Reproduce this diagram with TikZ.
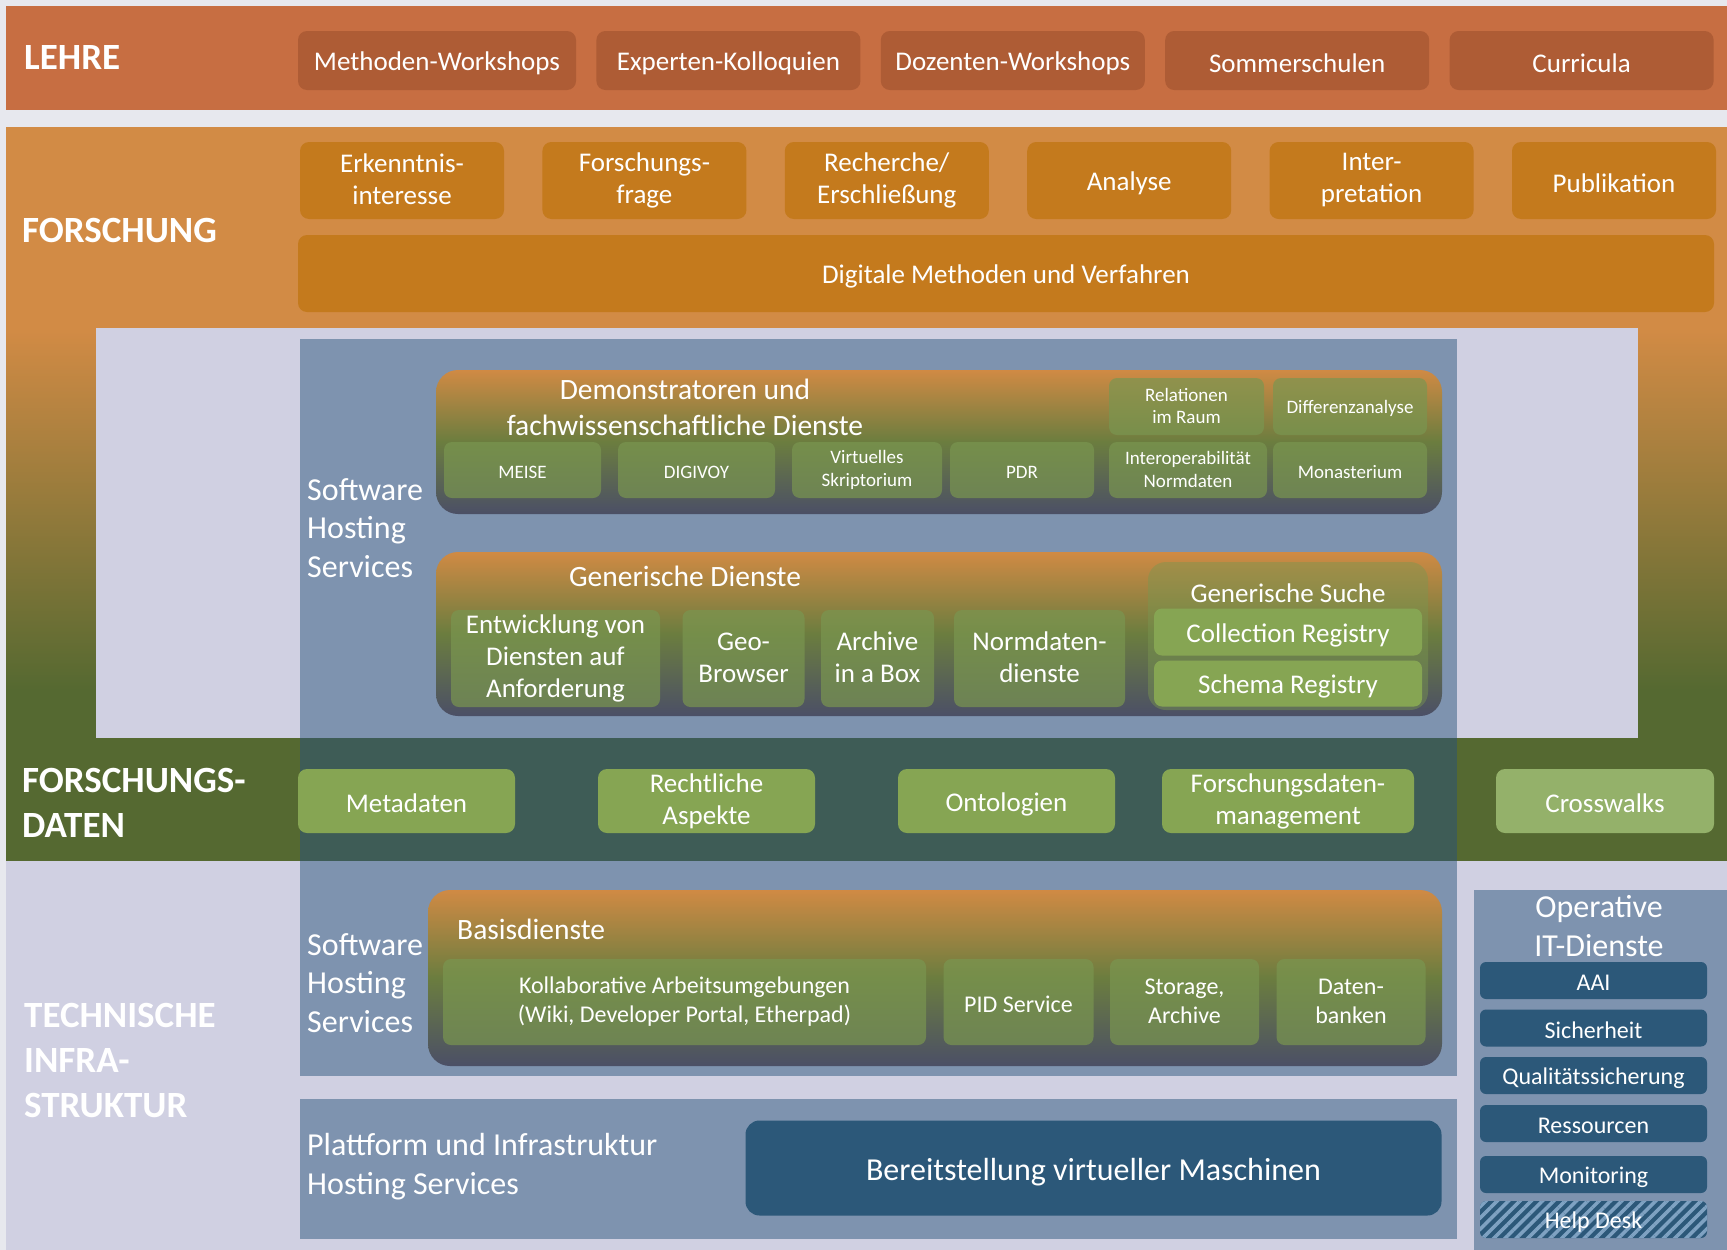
\documentclass[tikz,border=0pt]{standalone}
\usepackage{fontspec}
\setmainfont{Carlito}
\usepackage{tikz}
\usetikzlibrary{positioning, patterns.meta}

\definecolor{pagebg}{HTML}{E7E8EE}
\definecolor{lavender}{HTML}{D0D0E2}
\definecolor{lehreband}{HTML}{C76E42}
\definecolor{lehrebox}{HTML}{AE5C35}
\definecolor{forschband}{HTML}{D28B45}
\definecolor{forschbox}{HTML}{C47A1D}
\definecolor{fdband}{HTML}{556931}
\definecolor{panelblue}{HTML}{7E93AF}
\definecolor{overlap}{HTML}{3E5C56}
\definecolor{datagreen}{HTML}{86A553}
\definecolor{crossgreen}{HTML}{94B16A}
\definecolor{svcgreen}{HTML}{7A9650}
\definecolor{itblue}{HTML}{2C5879}
\definecolor{hatchblue}{HTML}{7FA2C2}
\definecolor{contTop}{HTML}{D08A44}
\definecolor{contMid}{HTML}{6B7D3F}
\definecolor{contBot}{HTML}{4B4F66}

\newcommand{\fsHead}{\fontsize{37}{45}\selectfont\bfseries}
\newcommand{\fsLarge}{\fontsize{32}{38.5}\selectfont}
\newcommand{\fsTitle}{\fontsize{29.5}{36}\selectfont}
\newcommand{\fsMid}{\fontsize{27}{32}\selectfont}
\newcommand{\fsSmall}{\fontsize{24}{29}\selectfont}
\newcommand{\fsTiny}{\fontsize{19}{22.5}\selectfont}
% strut for the first and last line of a box
\newcommand{\boxstrut}{\rule[-0.06\baselineskip]{0pt}{0.84\baselineskip}}

\begin{document}
\begin{tikzpicture}[x=1pt, y=-1pt,
    box/.style={rounded corners=9pt, text=white, align=center, inner sep=0pt,
        execute at begin node=\boxstrut, execute at end node=\boxstrut},
    lbox/.style={box, fill=lehrebox, minimum width=264pt, minimum height=59pt, font=\fsMid},
    fbox/.style={box, fill=forschbox, minimum width=204pt, minimum height=77pt, font=\fsMid},
    cont/.style={rounded corners=22pt, inner sep=0pt, top color=contTop, bottom color=contBot, middle color=contMid},
    sbox/.style={box, fill=svcgreen, fill opacity=0.7, text opacity=1, rounded corners=8pt},
    gbox/.style={box, fill=datagreen, font=\fsMid, rounded corners=8pt},
    dbox/.style={box, fill=datagreen, minimum width=217pt, minimum height=64pt, font=\fsMid},
    itbox/.style={box, fill=itblue, rounded corners=6pt, minimum width=227pt, minimum height=37pt, font=\fsSmall},
    head/.style={anchor=west, align=left, text=white, font=\fsHead, inner sep=0pt},
    hostlbl/.style={anchor=west, align=left, text=white, font=\fsLarge, inner sep=0pt}
]
    \useasboundingbox (0,0) rectangle (1727,1250);
    \fill[pagebg] (0,0) rectangle (1727,1250);

    % bands
    \fill[lehreband] (6,6) rectangle (1727,110);
    \fill[forschband] (6,127) rectangle (1727,328);
    \shade[top color=forschband, bottom color=fdband] (6,328) rectangle (1727,690);
    \fill[fdband] (6,689) rectangle (1727,861);
    \fill[lavender] (96,328) rectangle (1638,738);
    \fill[lavender] (6,861) rectangle (1727,1250);

    % panels
    \fill[panelblue] (300,339) rectangle (1457,1076);
    \fill[overlap] (300,738) rectangle (1457,861);
    \fill[panelblue] (300,1099) rectangle (1457,1239);
    \fill[panelblue] (1474,890) rectangle (1727,1250);

    % LEHRE
    \node[head] (lehre) at (24,58) {LEHRE};
    \node[lbox, minimum width=278pt] (mw) at (437,60.5) {Methoden-Workshops};
    \node[lbox, right=20pt of mw] (ek) {Experten-Kolloquien};
    \node[lbox, right=20pt of ek] (dw) {Dozenten-Workshops};
    \node[lbox, right=20pt of dw] (ss) {Sommerschulen};
    \node[lbox, right=20pt of ss] (cu) {Curricula};

    % FORSCHUNG
    \node[head] (forschung) at (22,231) {FORSCHUNG};
    \node[fbox] (ei) at (402,180.5) {Erkenntnis-\\interesse};
    \node[fbox, right=38pt of ei] (ff) {Forschungs-\\frage};
    \node[fbox, right=38pt of ff] (re) {Recherche/\\Erschließung};
    \node[fbox, right=38pt of re] (an) {Analyse};
    \node[fbox, right=38pt of an] (ip) {Inter-\\pretation};
    \node[fbox, right=38pt of ip] (pu) {Publikation};
    \node[fbox, minimum width=1416pt] (dm) at (1006,273.5) {Digitale Methoden und Verfahren};

    % Software Hosting Services (oben)
    \node[hostlbl] (shs1) at (307,528) {Software\\Hosting\\Services};

    \node[cont, minimum width=1006pt, minimum height=144pt] (demo) at (939,442) {};
    \node[text=white, align=center, font=\fsTitle] (demot) at (685,407) {Demonstratoren und\\fachwissenschaftliche Dienste};
    \node[sbox, font=\fsTiny, minimum width=155pt, minimum height=57pt] (rr) at (1186.5,406.5) {Relationen\\im Raum};
    \node[sbox, font=\fsTiny, minimum width=154pt, minimum height=57pt] (da) at (1350,406.5) {Differenzanalyse};
    \node[sbox, font=\fsTiny, minimum width=157pt, minimum height=56pt] (me) at (522.5,470) {MEISE};
    \node[sbox, font=\fsTiny, minimum width=157pt, minimum height=56pt] (dv) at (696.5,470) {DIGIVOY};
    \node[sbox, font=\fsTiny, minimum width=150pt, minimum height=56pt] (vs) at (867,470) {Virtuelles\\Skriptorium};
    \node[sbox, font=\fsTiny, minimum width=144pt, minimum height=56pt] (pd) at (1022,470) {PDR};
    \node[sbox, font=\fsTiny, minimum width=158pt, minimum height=56pt] (in) at (1188,470) {Interoperabilität\\Normdaten};
    \node[sbox, font=\fsTiny, minimum width=154pt, minimum height=56pt] (mo) at (1350,470) {Monasterium};

    \node[cont, minimum width=1006pt, minimum height=164pt] (gen) at (939,634) {};
    \node[text=white, font=\fsTitle] (gent) at (685,576) {Generische Dienste};
    \node[sbox, font=\fsMid, minimum width=209pt, minimum height=97pt] (ew) at (555.5,658.5) {Entwicklung von\\Diensten auf\\Anforderung};
    \node[sbox, font=\fsMid, minimum width=122pt, minimum height=97pt] (gb) at (743.5,658.5) {Geo-\\Browser};
    \node[sbox, font=\fsMid, minimum width=113pt, minimum height=97pt] (ab) at (877.5,658.5) {Archive\\in a Box};
    \node[sbox, font=\fsMid, minimum width=171pt, minimum height=97pt] (nd) at (1039.5,658.5) {Normdaten-\\dienste};
    \node[sbox, fill opacity=0.45, rounded corners=18pt, minimum width=280pt, minimum height=148pt] (gs) at (1288,636) {};
    \node[text=white, font=\fsMid] (gst) at (1288,593) {Generische Suche};
    \node[gbox, minimum width=268pt, minimum height=47pt] (cr) at (1288,632) {Collection Registry};
    \node[gbox, minimum width=268pt, minimum height=46pt] (sr) at (1288,683.5) {Schema Registry};

    % FORSCHUNGSDATEN
    \node[head] (fd) at (22,803) {FORSCHUNGS-\\DATEN};
    \node[dbox] (md) at (406.5,801) {Metadaten};
    \node[dbox] (ra) at (706.5,801) {Rechtliche\\Aspekte};
    \node[dbox] (on) at (1006.5,801) {Ontologien};
    \node[dbox, minimum width=252pt] (fm) at (1288,801) {Forschungsdaten-\\management};
    \node[dbox, fill=crossgreen, minimum width=218pt] (cw) at (1605,801) {Crosswalks};

    % TECHNISCHE INFRASTRUKTUR
    \node[head] (ti) at (24,1060) {TECHNISCHE\\INFRA-\\STRUKTUR};
    \node[hostlbl] (shs2) at (307,983) {Software\\Hosting\\Services};

    \node[cont, minimum width=1014pt, minimum height=176pt] (bas) at (935,978) {};
    \node[anchor=west, inner sep=0pt, text=white, font=\fsTitle] (bast) at (457,929) {Basisdienste};
    \node[sbox, font=\fsSmall, minimum width=483pt, minimum height=86pt] (ka) at (684.5,1002) {Kollaborative Arbeitsumgebungen\\(Wiki, Developer Portal, Etherpad)};
    \node[sbox, font=\fsSmall, minimum width=150pt, minimum height=86pt] (pid) at (1018.5,1002) {PID Service};
    \node[sbox, font=\fsSmall, minimum width=149pt, minimum height=86pt] (st) at (1184.5,1002) {Storage,\\Archive};
    \node[sbox, font=\fsSmall, minimum width=149pt, minimum height=86pt] (db) at (1351,1002) {Daten-\\banken};

    \node[hostlbl] (pih) at (307,1166.5) {Plattform und Infrastruktur\\Hosting Services};
    \node[box, fill=itblue, rounded corners=14pt, font=\fsLarge, minimum width=696pt, minimum height=95pt] (vm) at (1093.5,1168) {Bereitstellung virtueller Maschinen};

    % Operative IT-Dienste
    \node[text=white, align=center, font=\fsLarge] (oit) at (1599,926) {Operative\\IT-Dienste};
    \node[itbox] (aai) at (1593.5,980.5) {AAI};
    \node[itbox] (si) at (1593.5,1028) {Sicherheit};
    \node[itbox] (qs) at (1593.5,1075.5) {Qualitätssicherung};
    \node[itbox] (rs) at (1593.5,1123.5) {Ressourcen};
    \node[itbox] (mn) at (1593.5,1174.5) {Monitoring};
    \node[itbox, fill=none, preaction={fill=itblue, rounded corners=6pt}, pattern={Lines[angle=45, distance=8pt, line width=3.5pt]}, pattern color=hatchblue] (hd) at (1593.5,1219.5) {Help Desk};
\end{tikzpicture}
\end{document}
